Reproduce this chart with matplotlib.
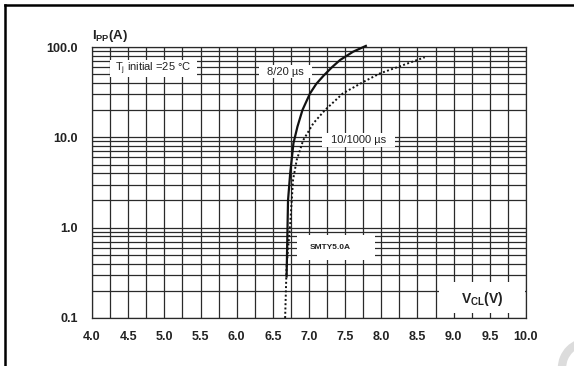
import matplotlib
matplotlib.use('Agg')
import matplotlib.pyplot as plt
from matplotlib.patches import Rectangle, Arc
from matplotlib.lines import Line2D
from matplotlib.ticker import FixedLocator, NullFormatter

plt.rcParams['font.family'] = ['Liberation Sans', 'DejaVu Sans']
plt.rcParams['mathtext.fontset'] = 'custom'
plt.rcParams['mathtext.rm'] = 'Liberation Sans'
plt.rcParams['mathtext.it'] = 'Liberation Sans'
plt.rcParams['mathtext.bf'] = 'Liberation Sans:bold'

# Peak pulse current vs clamping voltage
v_8_20 = [6.69, 6.70, 6.71, 6.74, 6.76, 6.785, 6.84, 6.91, 7.015, 7.10, 7.20, 7.32, 7.43, 7.61, 7.80]
i_8_20 = [0.28, 0.75, 2.0, 4.0, 5.6, 8.6, 13.1, 20.1, 30.7, 39.0, 48.0, 60.0, 71.8, 88.7, 104.0]

v_10_1000 = [6.67, 6.69, 6.74, 6.78, 6.83, 6.92, 7.06, 7.22, 7.47, 7.75, 7.98, 8.30, 8.60]
i_10_1000 = [0.1, 0.37, 1.1, 3.4, 5.6, 9.3, 14.3, 20.0, 30.7, 41.0, 51.0, 63.0, 77.0]

x_ticks = [4.0, 4.5, 5.0, 5.5, 6.0, 6.5, 7.0, 7.5, 8.0, 8.5, 9.0, 9.5, 10.0]
y_ticks = [0.1, 1.0, 10.0, 100.0]
y_ticklabels = ['0.1', '1.0', '10.0', '100.0']

fig = plt.figure(figsize=(5.74, 3.66), dpi=100)
ax = fig.add_axes([92 / 574, 48 / 366, 434 / 574, 271 / 366])

ax.set_xlim(4.0, 10.0)
ax.set_yscale('log')
ax.set_ylim(0.1, 100.0)

# grid: every 0.25 V, and 1..9 per decade
vgrid = [4.0 + 0.25 * k for k in range(25)]
hgrid = [m * 10.0 ** e for e in (-1, 0, 1) for m in range(1, 10)] + [100.0]
for x in vgrid:
    ax.axvline(x, color='#2a2a2a', lw=0.9, zorder=1)
for y in hgrid:
    ax.axhline(y, color='#2a2a2a', lw=0.9, zorder=1)

ax.xaxis.set_major_locator(FixedLocator(x_ticks))
ax.set_xticklabels([f'{t:.1f}' for t in x_ticks])
ax.yaxis.set_major_locator(FixedLocator(y_ticks))
ax.yaxis.set_minor_locator(FixedLocator([]))
ax.yaxis.set_minor_formatter(NullFormatter())
ax.set_yticklabels(y_ticklabels)
ax.tick_params(axis='both', length=0, labelsize=9, pad=9)
ax.tick_params(axis='y', pad=10)
for lab in ax.get_xticklabels() + ax.get_yticklabels():
    lab.set_fontweight('bold')
    lab.set_color('#222222')
for s in ax.spines.values():
    s.set_color('#2a2a2a')
    s.set_linewidth(0.9)


def label_box(x0, x1, y0, y1):
    ax.add_patch(Rectangle((x0, y0), x1 - x0, y1 - y0, facecolor='white',
                           edgecolor='none', zorder=2))


label_box(4.25, 5.45, 46.5, 72.0)
ax.text(4.85, 57.5, r'T$_\mathregular{j}$ initial =25 °C', fontsize=8,
        ha='center', va='center', color='#222222', zorder=3)

label_box(6.31, 7.04, 45.4, 63.0)
ax.text(6.67, 53.5, '8/20 µs', fontsize=8, ha='center', va='center',
        color='#222222', zorder=3)

label_box(7.18, 8.19, 7.8, 11.2)
ax.text(7.68, 9.3, '10/1000 µs', fontsize=8, ha='center', va='center',
        color='#222222', zorder=3)

label_box(6.83, 7.91, 0.44, 0.83)
ax.text(7.29, 0.6, 'SMTY5.0A', fontsize=6, fontweight='bold', ha='center',
        va='center', color='#222222', zorder=3)

label_box(8.80, 9.985, 0.1135, 0.25)
ax.text(9.39, 0.162, r'$\mathbf{V_{CL}(V)}$', fontsize=10, ha='center',
        va='center', color='#222222', zorder=3)

ax.plot(v_8_20, i_8_20, color='#111111', lw=1.6, zorder=4, clip_on=False,
        solid_capstyle='butt', solid_joinstyle='round')
ax.plot(v_10_1000, i_10_1000, color='#111111', lw=1.4, zorder=4,
        linestyle=(0, (1, 1.2)), clip_on=False)

fig.text(92 / 574, 1 - 36 / 366, r'$\mathbf{I_{PP}(A)}$', fontsize=9.5,
         ha='left', va='center', color='#222222')

# page frame (top and left edges) and watermark arc
fig.add_artist(Line2D([5 / 574, 5 / 574], [0, 1 - 5 / 366], color='black', lw=1.8,
                      transform=fig.transFigure))
fig.add_artist(Line2D([5 / 574, 1], [1 - 5 / 366, 1 - 5 / 366], color='black', lw=1.8,
                      transform=fig.transFigure))
fig.add_artist(Arc((588 / 574, 1 - 368 / 366), 2 * 26 / 574, 2 * 26 / 366,
                   color='#dcdcdc', lw=6, transform=fig.transFigure))

fig.savefig('out.png', dpi=100)
